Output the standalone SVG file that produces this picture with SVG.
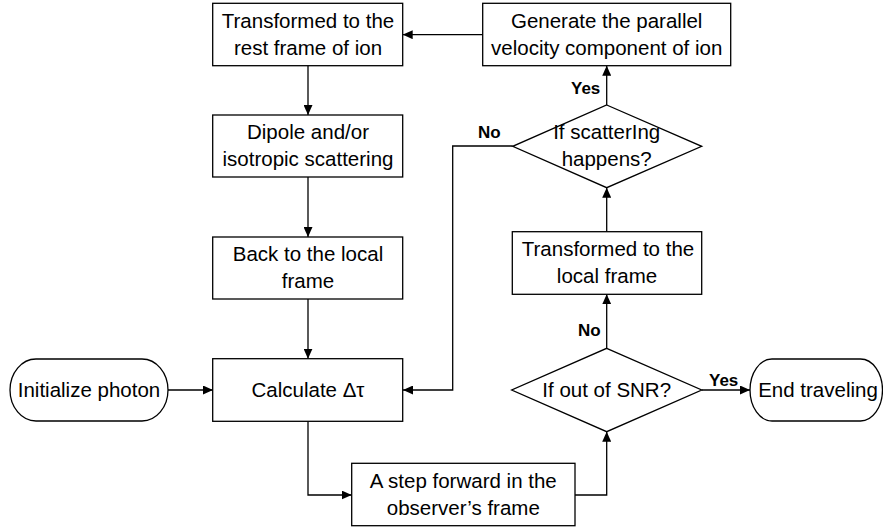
<svg xmlns="http://www.w3.org/2000/svg" width="883" height="529" viewBox="0 0 883 529">
<style>
.s{fill:#fff;stroke:#000;stroke-width:1.3}
.t{font-family:"Liberation Sans",Arial,sans-serif;font-size:20.5px;fill:#000;text-anchor:middle}
.b{font-family:"Liberation Sans",Arial,sans-serif;font-size:17px;font-weight:bold;fill:#000}
.c{fill:none;stroke:#000;stroke-width:1.3}
</style>
<defs>
<marker id="ah" markerUnits="userSpaceOnUse" markerWidth="10" markerHeight="9" refX="10" refY="4.5" orient="auto">
<path d="M0,0 L10,4.5 L0,9 z" fill="#000"/>
</marker>
</defs>
<rect width="883" height="529" fill="#fff"/>
<g id="connectors">
<path class="c" d="M308,65.7 V115" marker-end="url(#ah)"/>
<path class="c" d="M308,177 V237" marker-end="url(#ah)"/>
<path class="c" d="M308,299 V358.7" marker-end="url(#ah)"/>
<path class="c" d="M168,390 H213" marker-end="url(#ah)"/>
<path class="c" d="M308,421.3 V495 H351.7" marker-end="url(#ah)"/>
<path class="c" d="M575,495 H606.7 V431.7" marker-end="url(#ah)"/>
<path class="c" d="M701.7,390 H750" marker-end="url(#ah)"/>
<path class="c" d="M606.7,348.3 V294.3" marker-end="url(#ah)"/>
<path class="c" d="M606.7,231.7 V187.7" marker-end="url(#ah)"/>
<path class="c" d="M606.7,105 V65.7" marker-end="url(#ah)"/>
<path class="c" d="M512.7,146 H452.7 V390 H403" marker-end="url(#ah)"/>
<path class="c" d="M482.7,34.7 H402.7" marker-end="url(#ah)"/>
<text class="b" x="709" y="386">Yes</text>
<text class="b" x="578" y="336">No</text>
<text class="b" x="571" y="94">Yes</text>
<text class="b" x="478" y="138">No</text>
</g>
<g id="n-rest">
<rect class="s" x="212.7" y="3.3" width="190" height="62.4"/>
<text class="t" x="308" y="27.5">Transformed to the</text>
<text class="t" x="308" y="54.5">rest frame of ion</text>
</g>
<g id="n-dipole">
<rect class="s" x="212.7" y="115" width="190" height="62"/>
<text class="t" x="308" y="139">Dipole and/or</text>
<text class="t" x="308" y="166">isotropic scattering</text>
</g>
<g id="n-back">
<rect class="s" x="212.7" y="237" width="190" height="62"/>
<text class="t" x="308" y="261">Back to the local</text>
<text class="t" x="308" y="288">frame</text>
</g>
<g id="n-calc">
<rect class="s" x="212.7" y="358.7" width="190" height="62.6"/>
<text class="t" x="308" y="396.7">Calculate Δτ</text>
</g>
<g id="n-init">
<rect class="s" x="10" y="359" width="158" height="62" rx="26" ry="31"/>
<text class="t" x="89" y="396.7">Initialize photon</text>
</g>
<g id="n-step">
<rect class="s" x="351.7" y="463.3" width="223.3" height="62.4"/>
<text class="t" x="463.3" y="487.5">A step forward in the</text>
<text class="t" x="463.3" y="514.5">observer’s frame</text>
</g>
<g id="n-snr">
<polygon class="s" points="606.7,348.3 701.7,390 606.7,431.7 511.7,390"/>
<text class="t" x="606.7" y="396.7">If out of SNR?</text>
</g>
<g id="n-end">
<rect class="s" x="750" y="359" width="132.5" height="62" rx="22" ry="31"/>
<text class="t" x="818" y="396.7">End traveling</text>
</g>
<g id="n-local">
<rect class="s" x="512.3" y="231.7" width="189.4" height="62.6"/>
<text class="t" x="608" y="256">Transformed to the</text>
<text class="t" x="607" y="283">local frame</text>
</g>
<g id="n-scat">
<polygon class="s" points="606.7,105 701.7,146.3 606.7,187.7 512.7,146.3"/>
<text class="t" x="606.7" y="139">If scatterIng</text>
<text class="t" x="606.7" y="166">happens?</text>
</g>
<g id="n-gen">
<rect class="s" x="482.7" y="3.3" width="248" height="62.4"/>
<text class="t" x="606.7" y="27.5">Generate the parallel</text>
<text class="t" x="606.7" y="54.5">velocity component of ion</text>
</g>
</svg>
